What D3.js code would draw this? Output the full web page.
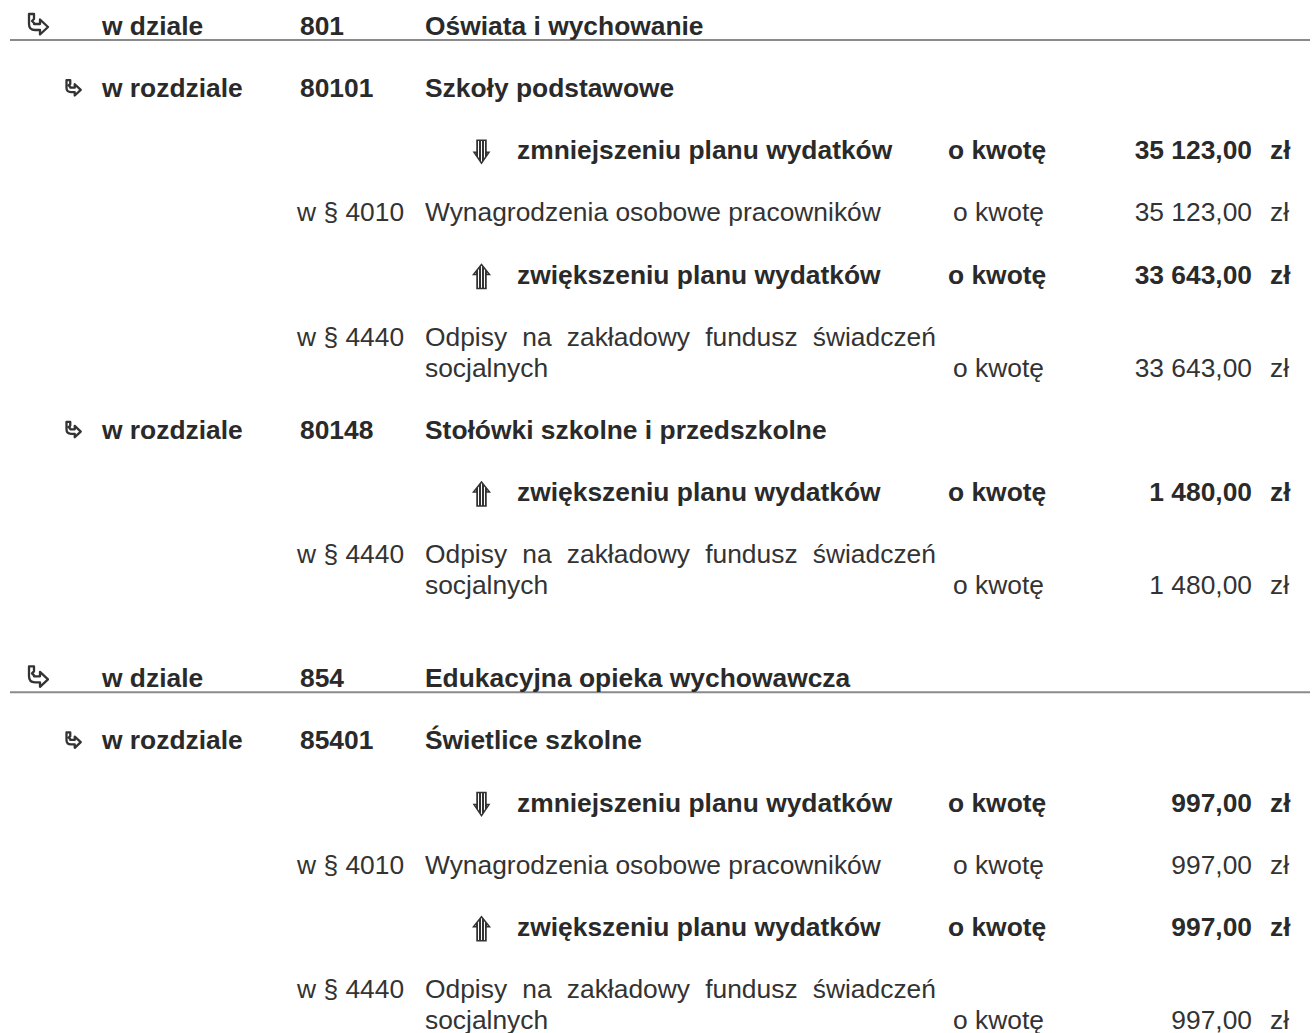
<!DOCTYPE html>
<html><head><meta charset="utf-8">
<script src="https://cdn.jsdelivr.net/npm/d3@7"></script>
<style>body{margin:0;background:#fff;} svg{display:block;}</style>
</head><body><svg id="c" width="1313" height="1033"></svg>
<script>
// ---------- data ----------
const divisionCodes = ["801", "854"];
const divisionNames = ["Oświata i wychowanie", "Edukacyjna opieka wychowawcza"];
const chapterCodes = ["80101", "80148", "85401"];
const chapterNames = ["Szkoły podstawowe", "Stołówki szkolne i przedszkolne", "Świetlice szkolne"];
const chapterDivision = ["801", "801", "854"];
const changeChapter = ["80101", "80101", "80148", "85401", "85401"];
const changeDirection = ["down", "up", "up", "down", "up"];
const changeLabels = {down: "zmniejszeniu planu wydatków", up: "zwiększeniu planu wydatków"};
const paragraphCodes = ["4010", "4440", "4440", "4010", "4440"];
const paragraphNames = ["Wynagrodzenia osobowe pracowników",
  "Odpisy na zakładowy fundusz świadczeń socjalnych",
  "Odpisy na zakładowy fundusz świadczeń socjalnych",
  "Wynagrodzenia osobowe pracowników",
  "Odpisy na zakładowy fundusz świadczeń socjalnych"];
const amounts = [35123, 33643, 1480, 997, 997];
const labelDivision = "w dziale", labelChapter = "w rozdziale", labelPar = "w §", labelBy = "o kwotę", currency = "zł";

// ---------- layout ----------
const svg = d3.select("#c");
const FS = 25.5, SX = 1.035, FONT = "'Liberation Sans', Arial, sans-serif";
const C_N = "#333", C_B = "#2a2a2a";
const col = d3.scaleOrdinal()
  .domain(["iconDiv","iconChap","label","code","name","par","arrow","change","byB","by","amount","cur","textEnd"])
  .range([31, 68, 102, 300, 425, 297, 473, 517, 948, 953, 1252, 1270, 936]);
const fmt = d3.formatLocale({decimal: ",", thousands: " ", grouping: [3]}).format(",.2f");

// build rows
const rows = [];
divisionCodes.forEach((dc, di) => {
  rows.push({type: "div", code: dc, name: divisionNames[di], first: di === 0});
  chapterCodes.forEach((cc, ci) => {
    if (chapterDivision[ci] !== dc) return;
    rows.push({type: "chap", code: cc, name: chapterNames[ci]});
    changeChapter.forEach((ch, k) => {
      if (ch !== cc) return;
      rows.push({type: "change", dir: changeDirection[k], amount: amounts[k]});
      rows.push({type: "item", par: paragraphCodes[k], name: paragraphNames[k], amount: amounts[k]});
    });
  });
});

// measuring
const meas = svg.append("text").attr("font-family", FONT).attr("font-size", FS).attr("visibility", "hidden");
function width(str, bold) {
  meas.attr("font-weight", bold ? "bold" : "normal").text(str);
  return meas.node().getComputedTextLength() * SX;
}
function wrap(str, maxW) {
  const words = str.split(" "), lines = [];
  let cur = [];
  words.forEach(w => {
    const t = cur.concat([w]);
    if (cur.length && width(t.join(" "), false) > maxW) { lines.push(cur); cur = [w]; }
    else cur = t;
  });
  lines.push(cur);
  return lines;
}

// assign line indices
let line = 0;
rows.forEach(r => {
  if (r.type === "div" && !r.first) line += 1;
  r.line = line;
  if (r.type === "item") {
    r.lines = wrap(r.name, col("textEnd") - col("name"));
    r.n = r.lines.length;
  } else r.n = 1;
  line += r.n + 1;
});
const maxLine = d3.max(rows, r => r.line + r.n - 1);
const y = d3.scaleLinear().domain([0, maxLine]).range([35, 1029]);

const g = svg.append("g");
function txt(x, yy, str, bold, anchor) {
  return g.append("text")
    .attr("transform", `translate(${x},${yy}) scale(${SX},1)`)
    .attr("font-family", FONT).attr("font-size", FS)
    .attr("font-weight", bold ? "bold" : "normal")
    .attr("fill", bold ? C_B : C_N)
    .attr("text-anchor", anchor || "start")
    .text(str);
}

// defs: hatch pattern
const defs = svg.append("defs");
const pat = defs.append("pattern").attr("id", "hatch").attr("patternUnits", "userSpaceOnUse")
  .attr("width", 3).attr("height", 3);
pat.append("rect").attr("width", 3).attr("height", 3).attr("fill", "#fff");
pat.append("rect").attr("width", 2).attr("height", 3).attr("fill", "#333");

function hookIcon(x, yy, s) {
  g.append("path")
    .attr("transform", `translate(${x},${yy}) scale(${s})`)
    .attr("d", "M3,0 L3,5 L1,7 L3,9 L3,10 L9,10 L9,5.5 L17,13 L9,20.5 L9,16 L4,16 Q-2,16 -2,10 L-2,0 Z")
    .attr("fill", "#fff").attr("stroke", "#333").attr("stroke-width", 2.3 / s).attr("stroke-linejoin", "round");
}
function arrowIcon(x, yy, dir) {
  const d = dir === "down"
    ? "M4,0 L13,0 L13,12 L16,12 L8.5,23 L1,12 L4,12 Z"
    : "M8.5,0 L16.5,10 L13,10 L13,24 L4,24 L4,10 L0.5,10 Z";
  g.append("path").attr("transform", `translate(${x},${yy})`).attr("d", d)
    .attr("fill", "url(#hatch)").attr("stroke", "#333").attr("stroke-width", 1.5);
}

rows.forEach(r => {
  const yy = y(r.line);
  if (r.type === "div") {
    g.append("line").attr("x1", 10).attr("x2", 1310).attr("y1", yy + 5).attr("y2", yy + 5)
      .attr("stroke", "#8a8a8a").attr("stroke-width", 2);
    hookIcon(col("iconDiv"), yy - 21, 1);
    txt(col("label"), yy, labelDivision, true);
    txt(col("code"), yy, r.code, true);
    txt(col("name"), yy, r.name, true);
  } else if (r.type === "chap") {
    hookIcon(col("iconChap"), yy - 17, 0.75);
    txt(col("label"), yy, labelChapter, true);
    txt(col("code"), yy, r.code, true);
    txt(col("name"), yy, r.name, true);
  } else if (r.type === "change") {
    arrowIcon(col("arrow"), yy - 19, r.dir);
    txt(col("change"), yy, changeLabels[r.dir], true);
    txt(col("byB"), yy, labelBy, true);
    txt(col("amount"), yy, fmt(r.amount), true, "end");
    txt(col("cur"), yy, currency, true);
  } else {
    txt(col("par"), yy, `${labelPar} ${r.par}`, false);
    r.lines.forEach((words, li) => {
      const ly = y(r.line + li);
      if (li < r.lines.length - 1 && words.length > 1) {
        const ws = words.map(w => width(w, false));
        const gap = (col("textEnd") - col("name") - d3.sum(ws)) / (words.length - 1);
        let x = col("name");
        words.forEach((w, wi) => { txt(x, ly, w, false); x += ws[wi] + gap; });
      } else {
        txt(col("name"), ly, words.join(" "), false);
      }
    });
    const last = y(r.line + r.n - 1);
    txt(col("by"), last, labelBy, false);
    txt(col("amount"), last, fmt(r.amount), false, "end");
    txt(col("cur"), last, currency, false);
  }
});
meas.remove();
</script></body></html>
